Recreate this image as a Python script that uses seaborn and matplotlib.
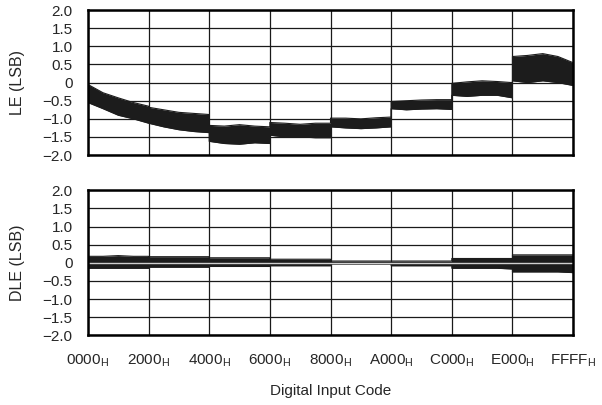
import matplotlib
matplotlib.use("Agg")
import matplotlib.pyplot as plt
import numpy as np
import pandas as pd
import seaborn as sns

# digital input codes where the error band edges were read (segments of 0x2000)
codes = [
    0x0000, 0x0800, 0x1000, 0x1800, 0x1FFF,
    0x2000, 0x2800, 0x3000, 0x3800, 0x3FFF,
    0x4000, 0x4800, 0x5000, 0x5800, 0x5FFF,
    0x6000, 0x6800, 0x7000, 0x7800, 0x7FFF,
    0x8000, 0x8800, 0x9000, 0x9800, 0x9FFF,
    0xA000, 0xA800, 0xB000, 0xB800, 0xBFFF,
    0xC000, 0xC800, 0xD000, 0xD800, 0xDFFF,
    0xE000, 0xE800, 0xF000, 0xF800, 0xFFFF,
]

le_upper = [
    -0.05, -0.28, -0.42, -0.55, -0.65,
    -0.68, -0.75, -0.82, -0.85, -0.88,
    -1.18, -1.20, -1.16, -1.20, -1.22,
    -1.10, -1.12, -1.15, -1.12, -1.12,
    -0.98, -0.98, -1.00, -0.97, -0.95,
    -0.52, -0.50, -0.48, -0.47, -0.47,
    -0.02, 0.02, 0.05, 0.03, 0.00,
    0.72, 0.75, 0.80, 0.72, 0.55,
]
le_lower = [
    -0.55, -0.72, -0.90, -1.00, -1.12,
    -1.12, -1.22, -1.30, -1.35, -1.38,
    -1.62, -1.68, -1.70, -1.66, -1.68,
    -1.45, -1.50, -1.50, -1.52, -1.52,
    -1.22, -1.25, -1.27, -1.25, -1.22,
    -0.72, -0.75, -0.73, -0.72, -0.74,
    -0.35, -0.38, -0.35, -0.35, -0.42,
    0.05, 0.00, 0.05, 0.00, -0.08,
]

dle_upper = [
    0.18, 0.18, 0.20, 0.18, 0.18,
    0.17, 0.17, 0.17, 0.17, 0.17,
    0.14, 0.14, 0.14, 0.14, 0.14,
    0.10, 0.10, 0.10, 0.10, 0.10,
    0.05, 0.05, 0.05, 0.05, 0.05,
    0.05, 0.05, 0.05, 0.05, 0.05,
    0.12, 0.12, 0.12, 0.12, 0.12,
    0.22, 0.22, 0.22, 0.22, 0.22,
]
dle_lower = [
    -0.15, -0.15, -0.15, -0.15, -0.15,
    -0.12, -0.12, -0.12, -0.12, -0.12,
    -0.10, -0.10, -0.10, -0.10, -0.10,
    -0.08, -0.08, -0.08, -0.08, -0.08,
    -0.03, -0.03, -0.03, -0.03, -0.03,
    -0.08, -0.08, -0.08, -0.08, -0.08,
    -0.15, -0.15, -0.15, -0.15, -0.17,
    -0.25, -0.25, -0.25, -0.25, -0.27,
]

tick_codes = [0x0000, 0x2000, 0x4000, 0x6000, 0x8000, 0xA000, 0xC000, 0xE000, 0xFFFF]
tick_labels = ["0000", "2000", "4000", "6000", "8000", "A000", "C000", "E000", "FFFF"]
y_ticks = [2.0, 1.5, 1.0, 0.5, 0, -0.5, -1.0, -1.5, -2.0]
y_tick_labels = ["2.0", "1.5", "1.0", "0.5", "0", "\u22120.5", "\u22121.0", "\u22121.5", "\u22122.0"]

sns.set_theme(style="white")
plt.rcParams['font.family'] = ['Liberation Sans', 'DejaVu Sans']
plt.rcParams['mathtext.fontset'] = 'custom'
plt.rcParams['mathtext.rm'] = 'Liberation Sans'

band_color = "#1c1c1c"

fig = plt.figure(figsize=(6.02, 4.05), dpi=100)
ax_le = fig.add_axes([0.146, 0.617, 0.806, 0.358])
ax_dle = fig.add_axes([0.146, 0.172, 0.806, 0.358])


def draw_panel(ax, upper, lower, ylabel, zero_line):
    df = pd.DataFrame({"code": codes, "upper": upper, "lower": lower})
    ax.fill_between(df["code"], df["lower"], df["upper"], color=band_color, lw=0, zorder=3)
    sns.lineplot(data=df, x="code", y="upper", ax=ax, color=band_color, lw=0.8, zorder=3)
    sns.lineplot(data=df, x="code", y="lower", ax=ax, color=band_color, lw=0.8, zorder=3)
    if zero_line:
        ax.axhline(0, color="#d0d0d0", lw=1.0, zorder=4)

    ax.set_xlim(0, 0xFFFF)
    ax.set_ylim(-2.0, 2.0)
    ax.set_yticks(y_ticks)
    ax.set_yticklabels(y_tick_labels, fontsize=11)
    ax.set_xticks(tick_codes)
    ax.grid(True, color="#1a1a1a", lw=0.9, zorder=1)
    ax.set_axisbelow(True)
    ax.tick_params(length=0, pad=11)
    ax.set_ylabel(ylabel, fontsize=11.5, labelpad=13)
    ax.set_xlabel("")
    for sp in ax.spines.values():
        sp.set_visible(True)
        sp.set_color("black")
        sp.set_linewidth(1.8)
        sp.set_zorder(5)


draw_panel(ax_le, le_upper, le_lower, "LE (LSB)", False)
draw_panel(ax_dle, dle_upper, dle_lower, "DLE (LSB)", True)

ax_le.set_xticklabels([])
ax_dle.set_xticklabels([t + r"$_\mathregular{H}$" for t in tick_labels], fontsize=11)
ax_dle.tick_params(axis="x", pad=12)
ax_dle.set_xlabel("Digital Input Code", fontsize=11, labelpad=11)

fig.savefig("out.png", dpi=100)
